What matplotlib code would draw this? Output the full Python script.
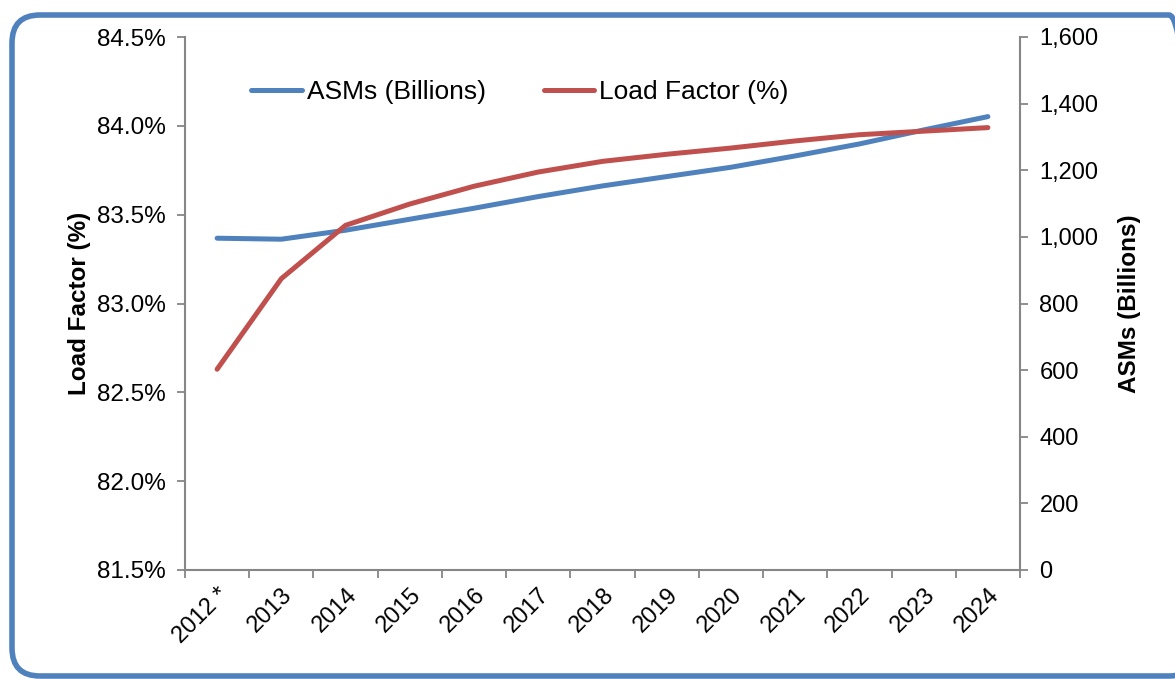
import matplotlib.pyplot as plt
from matplotlib.patches import FancyBboxPatch
from matplotlib.transforms import IdentityTransform
from matplotlib.ticker import FuncFormatter, MultipleLocator, FixedLocator

plt.rcParams['font.family'] = ['Liberation Sans', 'DejaVu Sans']

years = ['2012 *', '2013', '2014', '2015', '2016', '2017', '2018',
         '2019', '2020', '2021', '2022', '2023', '2024']
load_factor = [82.63, 83.14, 83.44, 83.56, 83.66, 83.74, 83.80,
               83.84, 83.875, 83.915, 83.95, 83.97, 83.99]
asms = [996, 993, 1020, 1053, 1086, 1121, 1153,
        1181, 1209, 1243, 1279, 1321, 1361]

blue = '#4F81BD'
red = '#C0504D'
grey = '#868686'

fig = plt.figure(figsize=(11.75, 6.79), dpi=100)
ax = fig.add_axes([185 / 1175, 1 - 570 / 679, 835 / 1175, 533 / 679])
ax2 = ax.twinx()

x = range(len(years))
l2, = ax2.plot(x, asms, color=blue, lw=3.6, solid_capstyle='round',
               label='ASMs (Billions)', zorder=2)
l1, = ax.plot(x, load_factor, color=red, lw=3.6, solid_capstyle='round',
              label='Load Factor (%)', zorder=3)
ax.set_zorder(ax2.get_zorder() + 1)
ax.patch.set_visible(False)

ax.set_xlim(-0.5, len(years) - 0.5)
ax.set_ylim(81.5, 84.5)
ax2.set_ylim(0, 1600)
ax.yaxis.set_major_locator(MultipleLocator(0.5))
ax.yaxis.set_major_formatter(FuncFormatter(lambda v, p: f'{v:.1f}%'))
ax2.yaxis.set_major_locator(MultipleLocator(200))
ax2.yaxis.set_major_formatter(FuncFormatter(lambda v, p: f'{v:,.0f}'))

# category ticks sit between the years, labels sit under each year
ax.xaxis.set_major_locator(FixedLocator([i - 0.5 for i in range(len(years) + 1)]))
ax.xaxis.set_major_formatter(FuncFormatter(lambda v, p: ''))
ax.set_xticks(list(x), minor=True)
ax.set_xticklabels(years, minor=True, rotation=45, ha='right',
                   rotation_mode='anchor', fontsize=17)
ax.tick_params(axis='x', which='minor', length=0, pad=10)
ax.tick_params(axis='x', which='major', length=6, width=1.3, color=grey)

for a in (ax, ax2):
    a.spines['top'].set_visible(False)
    for s in ('left', 'right', 'bottom'):
        a.spines[s].set_color(grey)
        a.spines[s].set_linewidth(1.5)
ax.spines['right'].set_visible(False)
ax2.spines['left'].set_visible(False)
ax2.spines['bottom'].set_visible(False)

ax.tick_params(axis='y', length=6, width=1.3, color=grey, labelsize=17.5, pad=8)
ax2.tick_params(axis='y', length=6, width=1.3, color=grey, labelsize=17, pad=8)

ax.set_ylabel('Load Factor (%)', fontsize=17.5, fontweight='bold', labelpad=4)
ax2.set_ylabel('ASMs (Billions)', fontsize=17.5, fontweight='bold',
               rotation=90, labelpad=14)

fig.legend(handles=[l2, l1], loc='center', bbox_to_anchor=(520 / 1175, 1 - 92 / 679),
           ncol=2, frameon=False, fontsize=19, handlelength=1.9,
           handletextpad=0.2, columnspacing=2.2)

# rounded border around the chart
frame = FancyBboxPatch((12, 3), 1185, 661,
                       boxstyle='round,pad=0,rounding_size=28',
                       transform=IdentityTransform(), fill=False,
                       edgecolor=blue, linewidth=4)
fig.add_artist(frame)

fig.savefig('out.png', dpi=100)
